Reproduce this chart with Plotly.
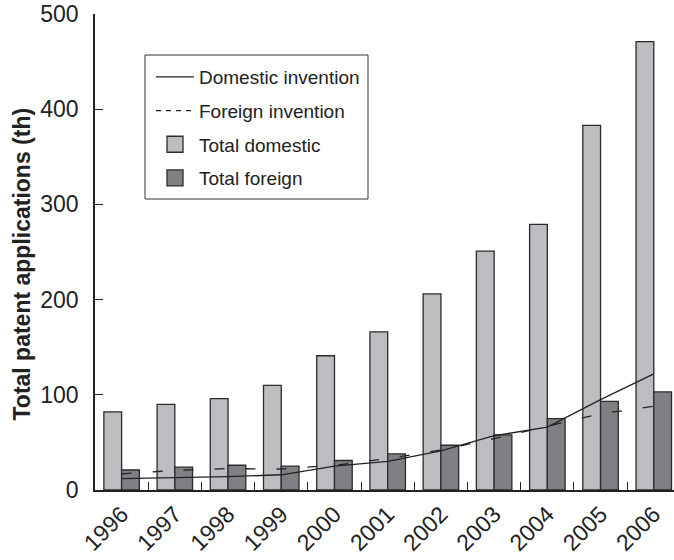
import plotly.graph_objects as go

years = ["1996", "1997", "1998", "1999", "2000", "2001", "2002", "2003", "2004", "2005", "2006"]
total_domestic = [82, 90, 96, 110, 141, 166, 206, 251, 279, 383, 471]
total_foreign = [21, 24, 26, 25, 31, 38, 47, 58, 75, 93, 103]
domestic_invention = [12, 13, 14, 16, 25, 30, 41, 57, 66, 95, 122]
foreign_invention = [17, 20.5, 22.5, 22, 26, 33, 42, 54, 67, 80, 88]
y_ticks = [0, 100, 200, 300, 400, 500]

FONT = "Liberation Sans, Arial, sans-serif"
INK = "#222222"
C_DOM = "#bcbdc1"
C_FOR = "#7f8084"
edge = dict(color="#2b2b2b", width=1.3)

W, H = 674, 560
L, T = 95, 14
R, B = 0, H - 490
PW, PH = W - L - R, H - T - B


def px_x(p):
    return (p - L) / PW


def px_y(p):
    return 1 - (p - T) / PH


fig = go.Figure()
# data marks
fig.add_trace(go.Bar(x=years, y=total_domestic, name="Total domestic",
                     marker=dict(color=C_DOM, line=edge), showlegend=False))
fig.add_trace(go.Bar(x=years, y=total_foreign, name="Total foreign",
                     marker=dict(color=C_FOR, line=edge), showlegend=False))
fig.add_trace(go.Scatter(x=years, y=domestic_invention, name="Domestic invention",
                         mode="lines", line=dict(color=INK, width=1.3), showlegend=False))
fig.add_trace(go.Scatter(x=years, y=foreign_invention, name="Foreign invention",
                         mode="lines", line=dict(color=INK, width=1.3, dash="10px,21px"),
                         showlegend=False))

# legend-only entries (styled like the reference key)
fig.add_trace(go.Scatter(x=[None], y=[None], name="Domestic invention", mode="lines",
                         line=dict(color=INK, width=1.3), legendgroup="a", legendrank=1))
fig.add_trace(go.Scatter(x=[None], y=[None], name="Foreign invention", mode="lines",
                         line=dict(color=INK, width=1.3, dash="5px,5px"),
                         legendgroup="b", legendrank=2))
fig.add_trace(go.Scatter(x=[None], y=[None], name="Total domestic", mode="markers",
                         marker=dict(symbol="square", size=16, color=C_DOM, line=edge),
                         legendgroup="c", legendrank=3))
fig.add_trace(go.Scatter(x=[None], y=[None], name="Total foreign", mode="markers",
                         marker=dict(symbol="square", size=16, color=C_FOR, line=edge),
                         legendgroup="d", legendrank=4))

fig.add_shape(type="rect", xref="paper", yref="paper",
              x0=px_x(145), x1=px_x(368), y0=px_y(55), y1=px_y(199),
              line=dict(color="#333333", width=1), fillcolor="white", layer="above")

fig.add_annotation(text="<b>Total patent applications (th)</b>", textangle=-90,
                   xref="paper", yref="paper", x=px_x(21), y=px_y(264.5),
                   showarrow=False, xanchor="center", yanchor="middle",
                   font=dict(size=23, family=FONT, color=INK))

fig.update_layout(
    width=W, height=H,
    margin=dict(l=L, r=R, t=T, b=B),
    paper_bgcolor="white", plot_bgcolor="white",
    font=dict(family=FONT, color=INK, size=23),
    barmode="group", bargap=0.333, bargroupgap=0,
    showlegend=True,
    legend=dict(x=px_x(151), y=px_y(58), xanchor="left", yanchor="top",
                borderwidth=0, bgcolor="rgba(0,0,0,0)",
                font=dict(size=19, family=FONT, color=INK),
                tracegroupgap=6, traceorder="grouped", itemwidth=38),
    xaxis=dict(type="category", range=[-0.5, 10.38], showline=True, linecolor=INK,
               linewidth=1.5, ticks="inside", tickson="boundaries", ticklen=8,
               tickcolor=INK, tickwidth=1.3, tickangle=-45, showgrid=False,
               tickfont=dict(size=23), zeroline=False, automargin=False),
    yaxis=dict(range=[0, 500], tickvals=y_ticks, showline=True, linecolor=INK,
               linewidth=1.5, ticks="inside", ticklen=8, tickcolor=INK, tickwidth=1.3,
               showgrid=False, zeroline=False, tickfont=dict(size=23),
               ticklabelstandoff=10, automargin=False, ticklabeloverflow="allow"),
)

fig.write_html("out.html", config={"displayModeBar": False},
               post_script="document.body.style.margin='0';document.body.style.overflow='hidden';")
